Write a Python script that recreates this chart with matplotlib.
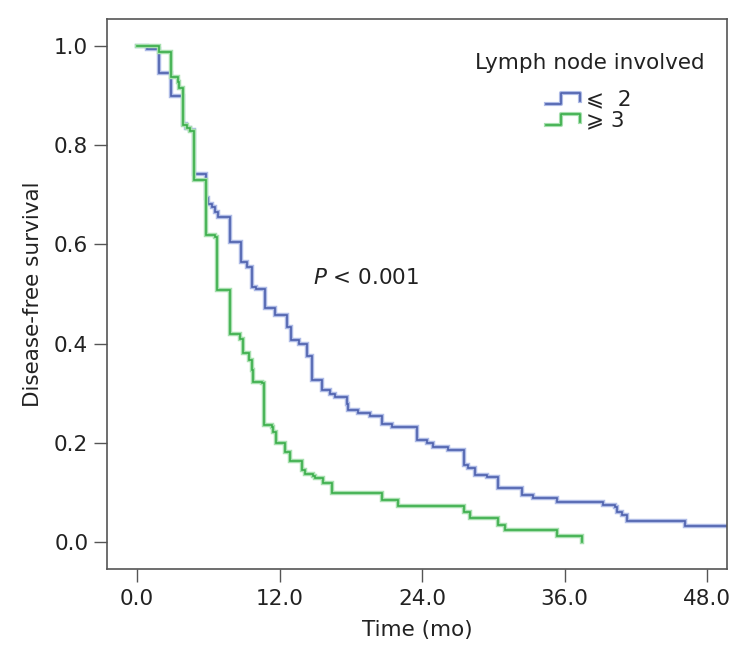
import matplotlib
matplotlib.use("Agg")
import matplotlib.pyplot as plt
from matplotlib.legend_handler import HandlerBase
from matplotlib.lines import Line2D

# Kaplan-Meier steps (time in months, survival after the step)
low_time = [0.0, 0.82, 1.88, 2.86, 3.85, 4.13, 4.46, 4.83, 5.81, 6.0, 6.3, 6.57, 6.85,
            7.83, 8.73, 9.24, 9.66, 10.0, 10.78, 11.62, 12.6, 13.0, 13.6, 14.3, 14.7,
            15.55, 16.25, 16.67, 17.66, 17.8, 18.64, 19.62, 20.6, 21.45, 23.55, 24.4,
            24.95, 26.2, 27.5, 27.9, 28.46, 29.45, 30.43, 32.4, 33.37, 35.34, 39.27,
            40.25, 40.4, 40.8, 41.24, 46.15, 52.0]
low_surv = [1.0, 0.994, 0.947, 0.899, 0.844, 0.835, 0.831, 0.743, 0.693, 0.682, 0.675,
            0.665, 0.656, 0.605, 0.565, 0.555, 0.515, 0.51, 0.471, 0.458, 0.434, 0.407,
            0.400, 0.374, 0.327, 0.306, 0.299, 0.293, 0.279, 0.266, 0.259, 0.253, 0.238,
            0.231, 0.206, 0.200, 0.192, 0.185, 0.154, 0.149, 0.135, 0.131, 0.108, 0.095,
            0.088, 0.081, 0.075, 0.071, 0.061, 0.054, 0.041, 0.032, 0.032]

high_time = [0.0, 1.88, 2.84, 3.48, 3.56, 3.85, 4.19, 4.46, 4.83, 5.81, 6.57, 6.71, 7.83,
             8.67, 8.9, 9.4, 9.66, 9.8, 10.5, 10.7, 11.34, 11.48, 11.7, 12.46, 12.9,
             13.87, 14.15, 14.85, 15.0, 15.7, 16.4, 20.6, 22.0, 27.5, 28.0, 30.4, 31.0,
             35.34, 37.5]
high_surv = [1.0, 0.988, 0.938, 0.928, 0.915, 0.841, 0.835, 0.828, 0.730, 0.619, 0.615,
             0.508, 0.42, 0.41, 0.38, 0.367, 0.347, 0.323, 0.320, 0.236, 0.232, 0.222,
             0.199, 0.182, 0.162, 0.145, 0.137, 0.132, 0.128, 0.118, 0.098, 0.085, 0.073,
             0.061, 0.048, 0.034, 0.023, 0.011, 0.0]

groups = ["\u2a7d  2", "\u2a7e 3"]
x_ticks = [0, 12, 24, 36, 48]
y_ticks = [0.0, 0.2, 0.4, 0.6, 0.8, 1.0]

blue, blue_halo = "#4d60ad", "#aebbe6"
green, green_halo = "#3aad4a", "#a6dfae"
frame = "#555555"
ink = "#222222"

plt.rcParams["font.family"] = ["DejaVu Sans", "Noto Sans CJK SC"]


class StepHandler(HandlerBase):
	# legend key drawn as a little step, like the SPSS output
	def create_artists(self, legend, orig, xd, yd, width, height, fontsize, trans):
		xs = [0, width * 0.45, width * 0.45, width, width]
		ys = [height * 0.1, height * 0.1, height * 0.8, height * 0.8, height * 0.3]
		xs = [x - xd for x in xs]
		ys = [y - yd for y in ys]
		halo = Line2D(xs, ys, color=orig.halo, lw=3, transform=trans)
		core = Line2D(xs, ys, color=orig.get_color(), lw=1.2, transform=trans)
		return [halo, core]


fig = plt.figure(figsize=(7.41, 6.53), dpi=100)
ax = fig.add_axes([107 / 741, 1 - 569 / 653, 620 / 741, 550 / 653])

for t, s, c, h in [(low_time, low_surv, blue, blue_halo), (high_time, high_surv, green, green_halo)]:
	ax.step(t, s, where="post", color=h, lw=3.2, solid_joinstyle="miter")
	ax.step(t, s, where="post", color=c, lw=1.2, solid_joinstyle="miter")

ax.set_xlim(-2.53, 49.68)
ax.set_ylim(-0.055, 1.055)
ax.set_xticks(x_ticks)
ax.set_xticklabels(["%.1f" % v for v in x_ticks])
ax.set_yticks(y_ticks)
ax.set_yticklabels(["%.1f" % v for v in y_ticks])
ax.tick_params(axis="both", direction="out", length=9.5, width=1, color=frame,
               labelsize=15.5, labelcolor=ink)
ax.tick_params(axis="x", pad=5)
ax.tick_params(axis="y", pad=4)
for sp in ax.spines.values():
	sp.set_color(frame)
	sp.set_linewidth(1.2)

ax.set_xlabel("Time (mo)", fontsize=15.5, color=ink, labelpad=8)
ax.set_ylabel("Disease-free survival", fontsize=15.5, color=ink, labelpad=8)

ax.text(14.8, 0.532, r"$P$ < 0.001", fontsize=15.5, va="center", ha="left", color=ink,
        math_fontfamily="dejavusans")

fig.text(590 / 741, 1 - 63 / 653, "Lymph node involved", fontsize=15.5, color=ink,
         ha="center", va="center")

h1 = Line2D([], [], color=blue)
h1.halo = blue_halo
h2 = Line2D([], [], color=green)
h2.halo = green_halo
leg = ax.legend([h1, h2], groups, frameon=False,
                loc="center", bbox_to_anchor=(589 / 741, 1 - 110 / 653),
                bbox_transform=fig.transFigure, fontsize=15.5,
                handlelength=1.55, handletextpad=0.3, labelspacing=0.05,
                borderpad=0, handler_map={Line2D: StepHandler()})
for tx in leg.get_texts():
	tx.set_color(ink)

fig.savefig("out.png", dpi=100)
